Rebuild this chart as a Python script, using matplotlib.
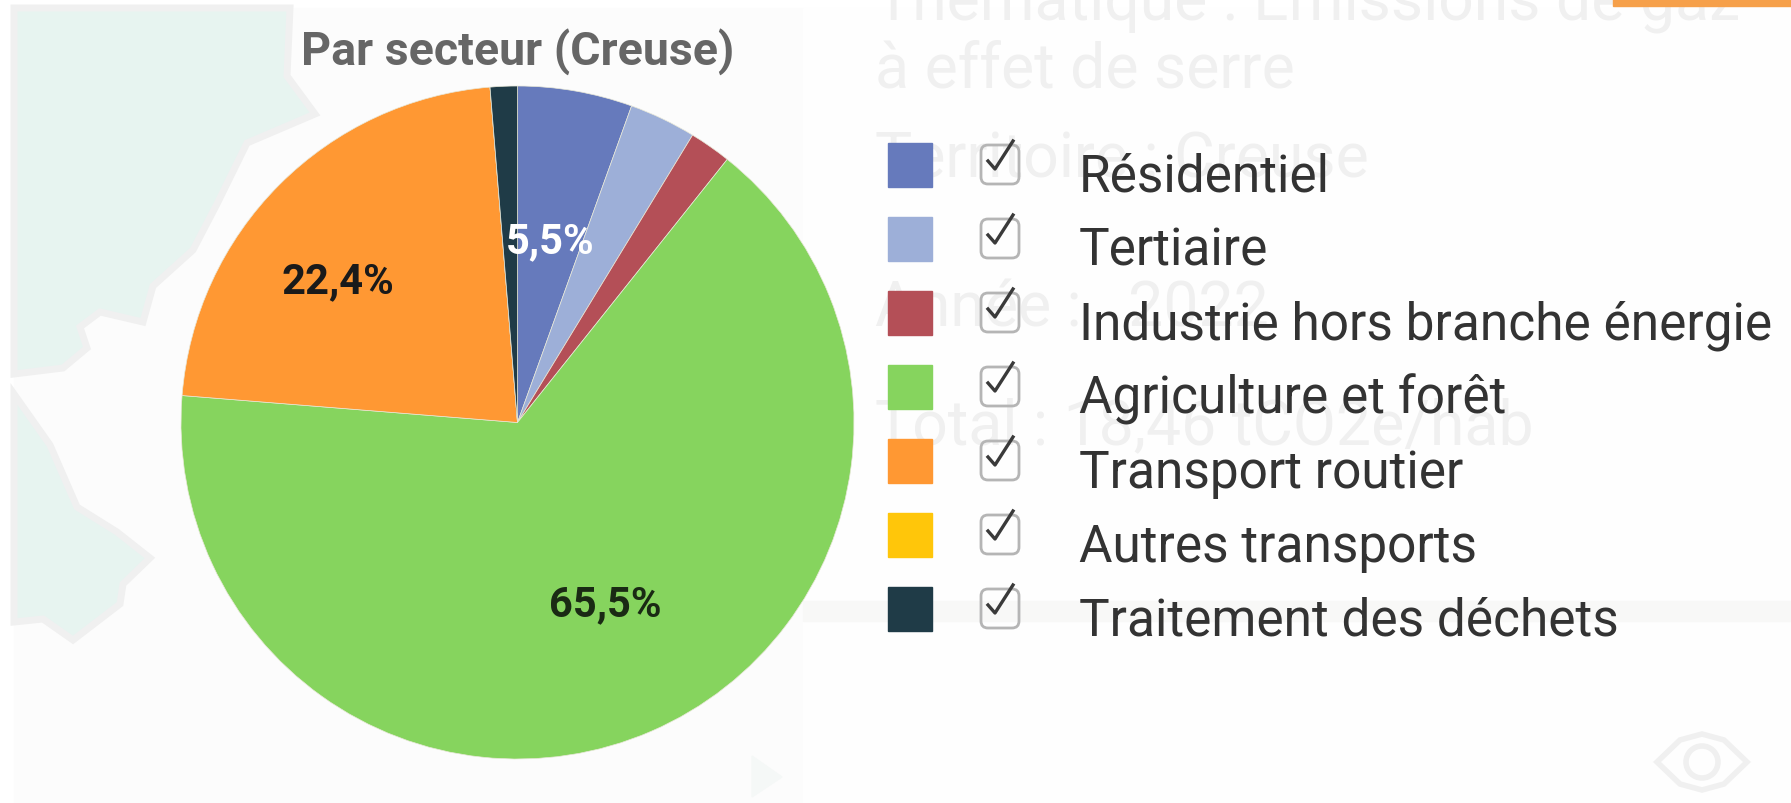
"""Répartition des émissions de GES par secteur (Creuse), avec le fond de carte estompé."""

import matplotlib
matplotlib.use("Agg")
import matplotlib.pyplot as plt
from matplotlib.patches import Ellipse, FancyBboxPatch, Polygon, Rectangle

plt.rcParams["font.family"] = ["Roboto", "DejaVu Sans"]

SECTORS = ["Résidentiel", "Tertiaire", "Industrie hors branche énergie", "Agriculture et forêt",
           "Transport routier", "Autres transports", "Traitement des déchets"]
SHARES = [5.5, 3.2, 2.0, 65.5, 22.4, 0.0, 1.3]
COLORS = ["#667abc", "#9dafd8", "#b44f57", "#86d45e", "#ff9833", "#ffc60a", "#1f3b47"]
PCT_LABELS = ["5,5%", "22,4%", "65,5%"]
PCT_COLORS = ["#ffffff", "#1a1a1a", "#1a2a14"]
TITLE = "Par secteur (Creuse)"
FADED_TEXTS = ["Thématique : Emissions de gaz", "à effet de serre", "Territoire : Creuse",
               "Année :   2022", "Total : 18,46 tCO2e/hab"]

W, H = 1791, 804
PIE_X, PIE_Y, PIE_R = 517.5, 423.5, 336.5
INK_FADED = "#f0f0f0"
MAP_SEA = "#e7f4f0"
MAP_EDGE = "#f0f0f0"


def draw_background(ax):
    ax.add_patch(Rectangle((14, 9), W, H, color="#fcfcfc", zorder=0))

    # côtes du fond de carte, juste esquissées
    north_sea = [(14, 9), (290, 9), (287, 77), (315, 115), (247, 144), (217, 205), (193, 251), (153, 287),
                 (143, 323), (100, 313), (80, 328), (87, 349), (63, 369), (14, 375)]
    south_sea = [(14, 395), (50, 446), (77, 508), (117, 533), (150, 559), (123, 585), (120, 605),
                 (73, 641), (43, 620), (14, 623)]
    for coast in (north_sea, south_sea):
        ax.add_patch(Polygon(coast, closed=True, facecolor=MAP_SEA, edgecolor=MAP_EDGE, linewidth=5, zorder=1))

    ax.add_patch(Rectangle((803, 9), W, H, color="#fefefe", zorder=1))
    ax.add_patch(Rectangle((803, 602), W, 20, color="#f8f8f7", zorder=2))
    ax.add_patch(Polygon([(752, 757), (782, 778), (752, 798)], closed=True, color="#f5f8f7", zorder=2))

    for text, y in zip(FADED_TEXTS, [4, 70, 160, 310, 427]):
        ax.text(875, y, text, fontsize=45, color=INK_FADED, va="center", zorder=2)
    ax.add_patch(Rectangle((1613, 0), W - 1613, 7, color="#f6a04a", zorder=3))

    # icône oeil en bas à droite
    eye = [(1657, 763), (1680, 741), (1702, 735), (1724, 741), (1747, 763), (1724, 785), (1702, 791), (1680, 785)]
    ax.add_patch(Polygon(eye, closed=True, fill=False, edgecolor="#f0f0f0", linewidth=4, zorder=2))
    ax.add_patch(Ellipse((1702, 763), 32, 32, fill=False, edgecolor="#f0f0f0", linewidth=4, zorder=2))


def draw_legend(ax):
    for i, (name, color) in enumerate(zip(SECTORS, COLORS)):
        top = 144 + i * 74
        ax.add_patch(Rectangle((888, top), 44, 44, color=color, zorder=3))
        ax.add_patch(FancyBboxPatch((981, top + 2), 38, 39, boxstyle="round,pad=0,rounding_size=7",
                                    fill=False, edgecolor="#b5b5b5", linewidth=2, zorder=3))
        ax.plot([988, 995, 1013], [top + 18, top + 26, top - 2], color="#3a3a3a", linewidth=2.4, zorder=4)
        ax.text(1079, top + 48, name, fontsize=37, color="#333333", va="baseline", zorder=4)


def main():
    fig = plt.figure(figsize=(W / 100, H / 100), dpi=100, facecolor="white")

    back = fig.add_axes([0, 0, 1, 1])
    back.set_xlim(0, W)
    back.set_ylim(H, 0)
    back.axis("off")
    draw_background(back)
    draw_legend(back)
    back.text(518, 52, TITLE, fontsize=33.5, fontweight="bold", color="#666666",
              ha="center", va="center", zorder=4)

    ax = fig.add_axes([(PIE_X - PIE_R) / W, (H - PIE_Y - PIE_R) / H, 2 * PIE_R / W, 2 * PIE_R / H])
    ax.pie(SHARES, colors=COLORS, startangle=90, counterclock=False, radius=1,
           wedgeprops={"linewidth": 0.5, "edgecolor": "#e8e8d8"})
    ax.set_xlim(-1, 1)
    ax.set_ylim(-1, 1)
    ax.patch.set_visible(False)

    for label, color, (x, y) in zip(PCT_LABELS, PCT_COLORS, [(0.098, 0.54), (-0.535, 0.42), (0.26, -0.54)]):
        ax.text(x, y, label, fontsize=30, fontweight="bold", color=color, ha="center", va="center")

    fig.savefig("out.png", dpi=100)
    plt.close(fig)


if __name__ == "__main__":
    main()
